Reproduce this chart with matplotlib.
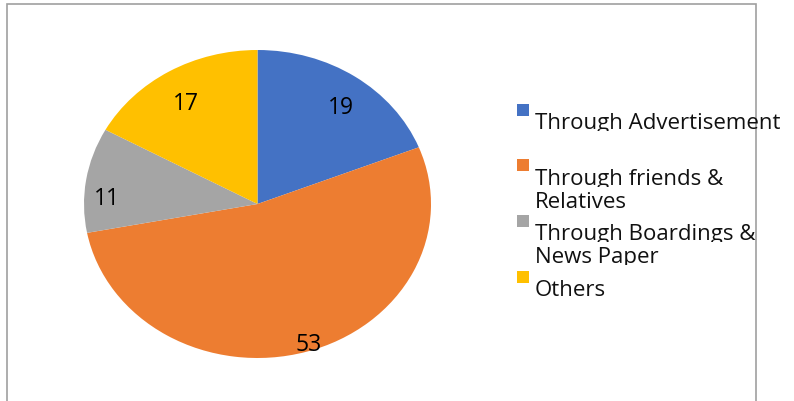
import numpy as np
import matplotlib
matplotlib.use("Agg")
import matplotlib.pyplot as plt
from matplotlib.patches import Rectangle
from matplotlib.transforms import Bbox

# data
labels = ["Through Advertisement", "Through friends &\nRelatives",
          "Through Boardings &\nNews Paper", "Others"]
values = [19, 53, 11, 17]
colors = ["#4472C4", "#ED7D31", "#A5A5A5", "#FFC000"]
# label placement tweaks (radius fraction, angle shift in degrees)
label_dist = [0.80, 0.95, 0.87, 0.78]
label_shift = [-3, 2, 6, 1.5]

W, H = 794, 401
plt.rcParams["font.family"] = ["Open Sans", "DejaVu Sans"]

fig = plt.figure(figsize=(W / 100, H / 100), dpi=100)

def fx(px):
    return px / W

def fy(py):
    return 1 - py / H

# chart border (bottom edge is off the image)
fig.patches.append(Rectangle((fx(7), fy(410)), fx(756) - fx(7), fy(4) - fy(410),
                             transform=fig.transFigure, fill=False,
                             edgecolor="#A0A0A0", linewidth=1.2))

# pie fills this box, stretched into an ellipse
cx, cy, rx, ry = 257.5, 204, 173.5, 154
ax = fig.add_axes([fx(cx - rx), fy(cy + ry), 2 * rx / W, 2 * ry / H])
wedges, _ = ax.pie(values, colors=colors, startangle=90, counterclock=False,
                   radius=1, wedgeprops=dict(linewidth=0))
ax.set_aspect("auto")
ax.set_xlim(-1, 1)
ax.set_ylim(-1, 1)
ax.axis("off")

lab_size = 16.5
for w, v, d, s in zip(wedges, values, label_dist, label_shift):
    ang = np.deg2rad((w.theta1 + w.theta2) / 2 + s)
    # baseline dropped by half the digit height so the digits sit centred
    ax.annotate(str(v), (d * np.cos(ang), d * np.sin(ang)),
                xytext=(0, -0.357 * lab_size), textcoords="offset points",
                ha="center", va="baseline", fontsize=lab_size, color="black")

# legend, drawn by hand (Excel clips the lines)
sq_x, sq = 517, 12
text_x = 535
tops = [104, 159.5, 215, 271]
line_gap = 23
for lab, col, top in zip(labels, colors, tops):
    fig.patches.append(Rectangle((fx(sq_x), fy(top + sq)), sq / W, sq / H,
                                 transform=fig.transFigure, facecolor=col,
                                 edgecolor="none"))
    for i, line in enumerate(lab.split("\n")):
        base = top + 25 + i * line_gap
        t = fig.text(fx(text_x), fy(base), line, ha="left", va="baseline",
                     fontsize=16, color="#111111")
        t.set_clip_box(Bbox([[0, H - (base + 2)], [W, H - (base - 24)]]))

fig.savefig("out.png", dpi=100)
